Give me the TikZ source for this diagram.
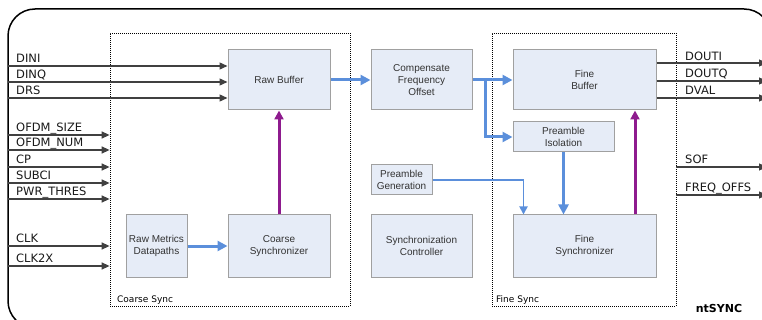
\documentclass[tikz,border=0pt]{standalone}
\usepackage{fontspec}
\setmainfont{DejaVu Sans}
\newfontfamily\boxfont{Liberation Sans}
\usetikzlibrary{arrows.meta}
\definecolor{boxfill}{HTML}{E6ECF7}
\definecolor{boxline}{HTML}{A0A0A0}
\definecolor{flowblue}{HTML}{5B8FDB}
\definecolor{ctrlpurple}{HTML}{8E1B8E}
\definecolor{sig}{HTML}{404040}
\begin{document}
\begin{tikzpicture}[x=1pt,y=-1pt,
  blk/.style={draw=boxline, line width=1pt, fill=boxfill, inner sep=0pt, align=center,
    font=\boxfont\fontsize{10}{12}\selectfont, text=black!80},
  region/.style={draw=black, line width=0.8pt, dash pattern=on 1pt off 1pt, inner sep=0pt},
  sigline/.style={draw=sig, line width=1.3pt, -{Triangle[length=8pt,width=7pt]}},
  siglabel/.style={anchor=base west, inner sep=0pt, font=\fontsize{11.5}{12}\selectfont, text=black!90},
  flow/.style={draw=flowblue, line width=3pt, -{Triangle[length=10pt,width=10pt]}},
  flowthin/.style={draw=flowblue, line width=1.8pt, -{Triangle[length=8pt,width=8pt]}},
  ctrl/.style={draw=ctrlpurple, line width=3pt, -{Triangle[length=9pt,width=9pt]}},
  regionlabel/.style={anchor=base west, inner sep=0pt, font=\fontsize{9}{10}\selectfont}
]
\useasboundingbox (0,0) rectangle (762,320);
\begin{scope}
\clip (0,0) rectangle (762,320);
\draw[line width=1.5pt, rounded corners=27pt] (8,9) rectangle (771,328);
\end{scope}

% regions
\node[region, minimum width=240pt, minimum height=273pt] (coarse) at (230,169.5) {};
\node[region, minimum width=184pt, minimum height=273pt] (fine) at (584,169.5) {};
\node[regionlabel] (coarselbl) at (117,302) {Coarse Sync};
\node[regionlabel] (finelbl) at (496,302) {Fine Sync};
\node[anchor=base, inner sep=0pt, font=\bfseries\fontsize{11}{12}\selectfont] (title) at (719,312) {ntSYNC};

% blocks
\node[blk, minimum width=102pt, minimum height=60pt] (rawbuf) at (279,80) {Raw Buffer};
\node[blk, minimum width=101pt, minimum height=60pt] (cfo) at (421.5,80) {Compensate\\Frequency\\Offset};
\node[blk, minimum width=143pt, minimum height=60pt] (finebuf) at (584.5,80) {Fine\\Buffer};
\node[blk, minimum width=101pt, minimum height=30pt] (preiso) at (563.5,137) {Preamble\\Isolation};
\node[blk, minimum width=61pt, minimum height=30pt] (pregen) at (401.5,180) {Preamble\\Generation};
\node[blk, minimum width=101pt, minimum height=62pt] (synctrl) at (421.5,246) {Synchronization\\Controller};
\node[blk, minimum width=102pt, minimum height=62pt] (coarsesync) at (279,246) {Coarse\\Synchronizer};
\node[blk, minimum width=61pt, minimum height=62pt] (rawmet) at (156.5,246) {Raw Metrics\\Datapaths};
\node[blk, minimum width=143pt, minimum height=62pt] (finesync) at (584.5,246) {Fine\\Synchronizer};

% input coordinates
\coordinate (iDINI) at (8,66);
\coordinate (iDINQ) at (8,82);
\coordinate (iDRS) at (8,98);
\coordinate (iOS) at (8,135);
\coordinate (iON) at (8,150);
\coordinate (iCP) at (8,167);
\coordinate (iSUB) at (8,183);
\coordinate (iPWR) at (8,199);
\coordinate (iCLK) at (8,246);
\coordinate (iCLK2) at (8,266);

\draw[sigline] (iDINI) -- (iDINI -| rawbuf.west);
\draw[sigline] (iDINQ) -- (iDINQ -| rawbuf.west);
\draw[sigline] (iDRS) -- (iDRS -| rawbuf.west);
\draw[sigline] (iOS) -- (iOS -| coarse.west);
\draw[sigline] (iON) -- (iON -| coarse.west);
\draw[sigline] (iCP) -- (iCP -| coarse.west);
\draw[sigline] (iSUB) -- (iSUB -| coarse.west);
\draw[sigline] (iPWR) -- (iPWR -| coarse.west);
\draw[sigline] (iCLK) -- (iCLK -| coarse.west);
\draw[sigline] (iCLK2) -- (iCLK2 -| coarse.west);

\node[siglabel] (lDINI) at (16,62.5) {DINI};
\node[siglabel] (lDINQ) at (16,78.5) {DINQ};
\node[siglabel] (lDRS) at (16,94.5) {DRS};
\node[siglabel] (lOS) at (16,131.5) {OFDM\_SIZE};
\node[siglabel] (lON) at (16,146.5) {OFDM\_NUM};
\node[siglabel] (lCP) at (16,163.5) {CP};
\node[siglabel] (lSUB) at (16,179.5) {SUBCI};
\node[siglabel] (lPWR) at (16,195.5) {PWR\_THRES};
\node[siglabel] (lCLK) at (16,242.5) {CLK};
\node[siglabel] (lCLK2) at (16,262.5) {CLK2X};

% outputs (arrow tips run past the right edge, as in the reference)
\coordinate (oDOUTI) at (767,63);
\coordinate (oDOUTQ) at (767,81);
\coordinate (oDVAL) at (767,98);
\coordinate (oSOF) at (767,167);
\coordinate (oFREQ) at (767,195);

\begin{scope}
\clip (0,0) rectangle (762,320);
\draw[sigline] (oDOUTI -| finebuf.east) -- (oDOUTI);
\draw[sigline] (oDOUTQ -| finebuf.east) -- (oDOUTQ);
\draw[sigline] (oDVAL -| finebuf.east) -- (oDVAL);
\draw[sigline] (oSOF -| fine.east) -- (oSOF);
\draw[sigline] (oFREQ -| fine.east) -- (oFREQ);
\end{scope}

\node[siglabel] (lDOUTI) at (685,60.5) {DOUTI};
\node[siglabel] (lDOUTQ) at (685,78) {DOUTQ};
\node[siglabel] (lDVAL) at (685,95) {DVAL};
\node[siglabel] (lSOF) at (685,164) {SOF};
\node[siglabel] (lFREQ) at (685,192) {FREQ\_OFFS};

% data flow
\draw[flow] (rawbuf.east) -- (cfo.west);
\draw[flow] (cfo.east) -- (finebuf.west);
\coordinate (branch) at ([xshift=13pt]cfo.east);
\draw[flow] (branch) |- (preiso.west);
\draw[flow] (preiso.south) -- (preiso.south |- finesync.north);
\draw[flow] (rawmet.east) -- (coarsesync.west);
\coordinate (pgin) at ([xshift=11pt]finesync.north west);
\draw[flowthin] (pregen.east) -| (pgin);

% control
\draw[ctrl] (coarsesync.north) -- (rawbuf.south);
\coordinate (fsout) at ([xshift=50.5pt]finesync.north);
\draw[ctrl] (fsout) -- (fsout |- finebuf.south);
\end{tikzpicture}
\end{document}
